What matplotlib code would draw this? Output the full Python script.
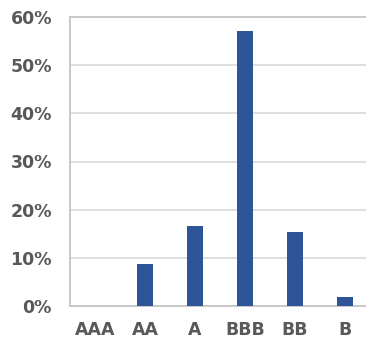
import matplotlib
matplotlib.use("Agg")
import matplotlib.pyplot as plt
from matplotlib.ticker import FuncFormatter

categories = ["AAA", "AA", "A", "BBB", "BB", "B"]
values = [0.0, 8.8, 16.7, 57.0, 15.3, 1.8]
yticks = [0, 10, 20, 30, 40, 50, 60]

plt.rcParams['font.family'] = ['DejaVu Sans']

fig = plt.figure(figsize=(3.66, 3.41), dpi=100)
ax = fig.add_axes([70/366, (341-306)/341, 300/366, (306-17)/341])

x = list(range(len(categories)))
ax.bar(x, values, width=0.32, color="#2E5597", zorder=3)

ax.set_xlim(-0.5, len(categories) - 0.5)
ax.set_ylim(0, 60)
ax.set_yticks(yticks)
ax.yaxis.set_major_formatter(FuncFormatter(lambda v, p: f"{int(v)}%"))
ax.set_xticks(x)
ax.set_xticklabels(categories)

ax.grid(axis="y", color="#d9d9d9", linewidth=1.2, zorder=0)
for s in ["left", "bottom", "top"]:
    ax.spines[s].set_color("#c8c8c8")
    ax.spines[s].set_linewidth(1.4)
ax.spines["right"].set_visible(False)

ax.tick_params(axis="both", length=0, labelsize=12.5, labelcolor="#595959")
ax.tick_params(axis="y", pad=13)
ax.tick_params(axis="x", pad=11)
for lbl in ax.get_xticklabels() + ax.get_yticklabels():
    lbl.set_fontweight("bold")

fig.savefig("out.png", dpi=100)
